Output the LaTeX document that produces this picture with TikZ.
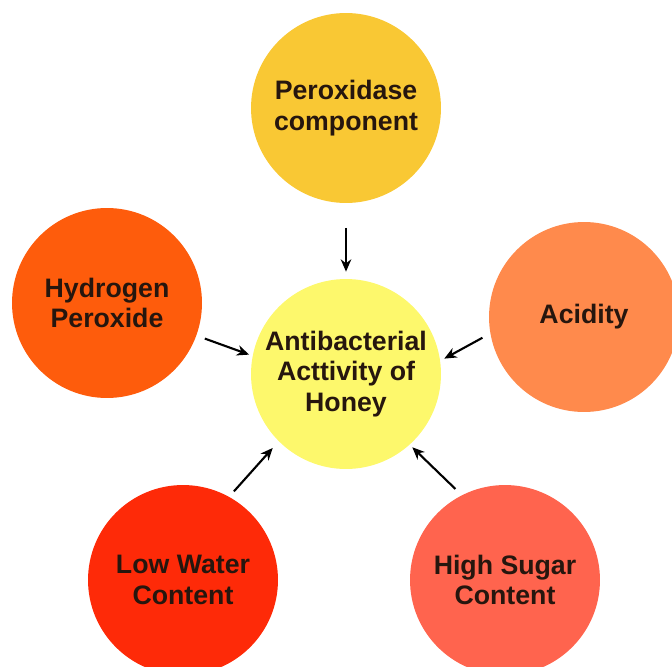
\documentclass[tikz,border=0pt]{standalone}
\usepackage{fontspec}
\setmainfont{Liberation Sans}
\usetikzlibrary{arrows.meta}

\definecolor{honeyYellow}{RGB}{253,248,108}
\definecolor{peroxGold}{RGB}{249,200,52}
\definecolor{hydroOrange}{RGB}{254,92,12}
\definecolor{acidPeach}{RGB}{255,138,76}
\definecolor{waterRed}{RGB}{254,42,8}
\definecolor{sugarCoral}{RGB}{255,100,78}
\definecolor{inkDark}{RGB}{38,22,14}

\tikzset{
	factor/.style={circle, minimum size=3.8cm, inner sep=0pt, align=center,
		text=inkDark, font=\bfseries\fontsize{15.2}{17.5}\selectfont},
	link/.style={-{Stealth[length=7pt,width=6pt]}, line width=1.2pt,
		shorten <=5pt, shorten >=2pt}
}

\begin{document}
\begin{tikzpicture}[x=0.02cm, y=-0.02cm]
	\useasboundingbox (0,0) rectangle (672,666);
	\node at (346,374) [factor, fill=honeyYellow] (honey) {Antibacterial\\Acttivity of\\Honey};
	\node at (346,108) [factor, fill=peroxGold] (perox) {Peroxidase\\component};
	\node at (107,303) [factor, fill=hydroOrange] (hydro) {Hydrogen\\Peroxide};
	\node at (584,317) [factor, fill=acidPeach] (acid) {Acidity};
	\node at (183,580) [factor, fill=waterRed] (water) {Low Water\\Content};
	\node at (505,580) [factor, fill=sugarCoral] (sugar) {High Sugar\\Content};

	\draw [link, shorten <=14pt, shorten >=4pt] (perox) -- (honey);
	\draw [link] (hydro.-20) -- (honey.169);
	\draw [link, shorten >=2.5pt] (acid.190) -- (honey.8);
	\draw [link, shorten <=4pt, shorten >=5pt] (water.61) -- (honey.225);
	\draw [link] (sugar.117) -- (honey.-48);
\end{tikzpicture}
\end{document}
